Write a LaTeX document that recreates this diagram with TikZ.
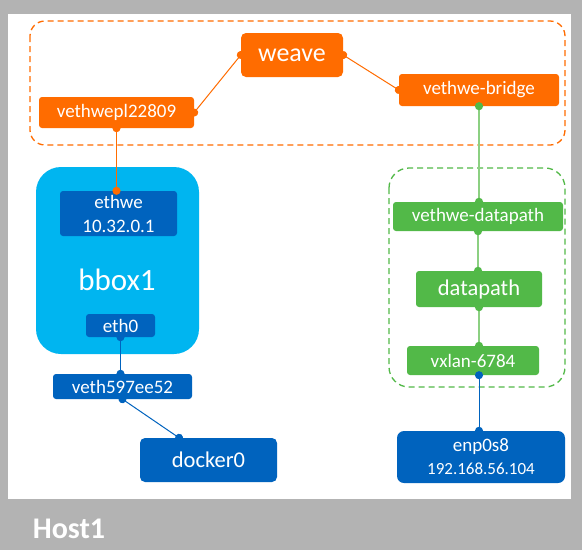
\documentclass[tikz,border=0pt]{standalone}
\usepackage{fontspec}
\setmainfont{Carlito}
\usetikzlibrary{arrows.meta}

\definecolor{hostgray}{RGB}{179,179,179}
\definecolor{weaveorange}{RGB}{255,108,0}
\definecolor{dpgreen}{RGB}{82,185,72}
\definecolor{linkgreen}{RGB}{140,208,130}
\definecolor{ifblue}{RGB}{0,99,190}
\definecolor{boxblue}{RGB}{0,181,240}

\begin{document}
\begin{tikzpicture}[x=1pt,y=-1pt,
        dev/.style={text=white,inner sep=0pt,rounded corners=3pt,font=\fontsize{19}{24}\selectfont},
        orangedev/.style={dev,fill=weaveorange},
        greendev/.style={dev,fill=dpgreen},
        bluedev/.style={dev,fill=ifblue},
        group/.style={line width=1.3pt,dash pattern=on 6pt off 4pt},
        link/.style={line width=1pt,{Circle[length=8pt]}-{Circle[length=8pt]},shorten <=-4pt,shorten >=-4pt},
        greenlink/.style={link,line width=1.5pt,linkgreen,{Circle[length=8pt,color=dpgreen]}-{Circle[length=8pt,color=dpgreen]}}]
        \fill [hostgray] (0,0) rectangle (582,550);
        \fill [white] (8,14) rectangle (571,499);
        \node [text=white,font=\fontsize{30}{34}\selectfont\bfseries] (host1) at (69,529) {Host1};
        \draw [weaveorange,group,rounded corners=15pt] (30,21) rectangle (565,145);
        \draw [dpgreen,group,rounded corners=20pt] (389,168) rectangle (565,387);
        \node [orangedev,minimum width=102pt,minimum height=44pt,rounded corners=5pt,font=\fontsize{26}{30}\selectfont] (weave) at (292,55) {weave};
        \node [orangedev,minimum width=155pt,minimum height=31pt] (vethwepl22809) at (116.5,112.5) {vethwepl22809};
        \node [orangedev,minimum width=160pt,minimum height=32pt] (vethwe-bridge) at (479,90) {vethwe-bridge};
        \node [fill=boxblue,rounded corners=25pt,minimum width=163pt,minimum height=187pt] (bbox) at (117.5,260.5) {};
        \node [text=white,font=\fontsize{31}{36}\selectfont] (bbox1) at (117,280) {bbox1};
        \node [bluedev,minimum width=117pt,minimum height=45pt,align=center] (ethwe) at (118.5,213.5) {ethwe\\10.32.0.1};
        \node [bluedev,minimum width=69pt,minimum height=23pt] (eth0) at (120.5,325.5) {eth0};
        \node [bluedev,minimum width=139pt,minimum height=25pt] (veth597ee52) at (122.5,386.5) {veth597ee52};
        \node [bluedev,minimum width=137pt,minimum height=44pt,rounded corners=5pt,font=\fontsize{22.5}{26}\selectfont] (docker0) at (208.5,460) {docker0};
        \node [greendev,minimum width=170pt,minimum height=29pt] (vethwe-datapath) at (478,216.5) {vethwe-datapath};
        \node [greendev,minimum width=126pt,minimum height=36pt,font=\fontsize{22.5}{26}\selectfont] (datapath) at (479,289) {datapath};
        \node [greendev,minimum width=132pt,minimum height=29pt] (vxlan-6784) at (473,360.5) {vxlan-6784};
        \node [bluedev,minimum width=168pt,minimum height=52pt,rounded corners=7pt,align=center] (enp0s8) at (481,457) {enp0s8\\[-1pt]{\fontsize{17}{20}\selectfont 192.168.56.104}};
        \draw [link,weaveorange] (vethwepl22809.east) -- (weave.west);
        \draw [link,weaveorange] (weave.east) -- (vethwe-bridge.west);
        \draw [link,weaveorange] (vethwepl22809.south) -- (vethwepl22809.south |- ethwe.north);
        \draw [link,ifblue] (eth0.south) -- (eth0.south |- veth597ee52.north);
        \draw [link,ifblue] (veth597ee52.south) -- (docker0.143);
        \draw [greenlink] (vethwe-bridge.south) -- (vethwe-bridge.south |- vethwe-datapath.north);
        \draw [greenlink] (vethwe-datapath.south) -- (vethwe-datapath.south |- datapath.north);
        \draw [greenlink] (datapath.south) -- (datapath.south |- vxlan-6784.north);
        \draw [link,ifblue] (datapath.south |- vxlan-6784.south) -- (datapath.south |- enp0s8.north);
\end{tikzpicture}
\end{document}
